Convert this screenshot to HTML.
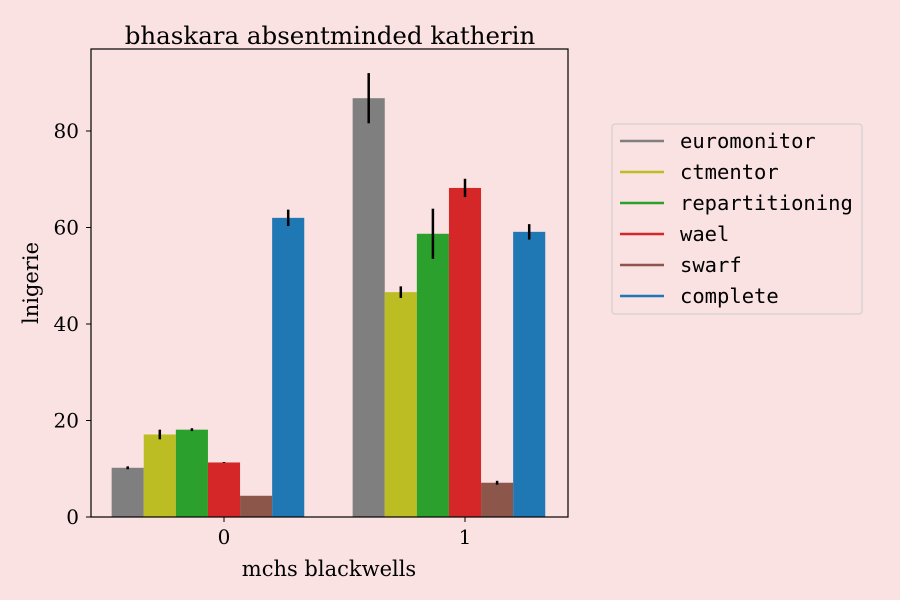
<!DOCTYPE html>
<html><head><meta charset="utf-8"><style>
body{margin:0;background:#fae1e2;}
svg{display:block;font-family:"DejaVu Serif","Liberation Serif",serif;}
</style></head><body>
<svg id="c" width="900" height="600">
<rect width="900" height="600" fill="#fae1e2"/>
<text x="330" y="44" text-anchor="middle" font-size="24.5">bhaskara absentminded katherin</text>
<g id="bars"></g>
<rect x="91" y="49" width="477" height="468" fill="none" stroke="#000" stroke-width="1.2"/>
<g id="axes" font-size="20"></g>
<text x="329" y="576" text-anchor="middle" font-size="21">mchs blackwells</text>
<text transform="translate(38,283) rotate(-90)" text-anchor="middle" font-size="21">lnigerie</text>
<g>
<rect x="612" y="124" width="250" height="190" rx="3" fill="#fae1e2" stroke="#ccc"/>
<g id="legend" font-family="'DejaVu Sans Mono','Liberation Mono',monospace" font-size="20.5"></g>
</g>
</svg>
<script>
const categories = ["0","1"];
const series = ["euromonitor","ctmentor","repartitioning","wael","swarf","complete"];
const colors = ["#7f7f7f","#bcbd22","#2ca02c","#d62728","#8c564b","#1f77b4"];
const values0 = [10.2,17.1,18.1,11.3,4.4,62.0];
const values1 = [86.8,46.6,58.7,68.2,7.1,59.1];
const errors0 = [0.3,1.0,0.3,0.1,0,1.7];
const errors1 = [5.2,1.2,5.2,1.9,0.4,1.6];
const yTicks = [0,20,40,60,80];
const values=[values0,values1], errors=[errors0,errors1];
const NS="http://www.w3.org/2000/svg";
const y=v=>517-v*4.825;
const xc=i=>224+i*241;
const bw=32.1;
function mk(tag,attrs,parent){const e=document.createElementNS(NS,tag);for(const k in attrs)e.setAttribute(k,attrs[k]);parent.appendChild(e);return e;}
const bars=document.getElementById('bars');
categories.forEach((c,ci)=>{
  series.forEach((s,si)=>{
    const v=values[ci][si], x0=xc(ci)-3.5*bw+si*bw;
    const r=mk('rect',{x:x0,y:y(v),width:bw,height:517-y(v),fill:colors[si]},bars);
    
    
    const e=errors[ci][si];
    if(e>0){
      const l=mk('line',{x1:x0+bw/2,x2:x0+bw/2,y1:y(v-e),y2:y(v+e),stroke:'#000','stroke-width':2.5},bars);
      
      
    }
  });
});
const ax=document.getElementById('axes');
yTicks.forEach(t=>{
  const l=mk('line',{x1:86,x2:91,y1:y(t),y2:y(t),stroke:'#000'},ax);
  
  
  const tx=mk('text',{x:79,y:y(t)+7,'text-anchor':'end'},ax);tx.textContent=t;
  
  
});
categories.forEach((c,ci)=>{
  const l=mk('line',{x1:xc(ci),x2:xc(ci),y1:517,y2:522,stroke:'#000'},ax);
  
  
  const tx=mk('text',{x:xc(ci),y:544,'text-anchor':'middle'},ax);tx.textContent=c;
  
  
});
const lg=document.getElementById('legend');
series.forEach((s,si)=>{
  const yy=141+si*31;
  const g=mk('g',{},lg);
  
  
  mk('line',{x1:620,x2:664,y1:yy,y2:yy,stroke:colors[si],'stroke-width':2.5},g);
  const t=mk('text',{x:680,y:yy+7},g);t.textContent=s;
});
</script>
</body></html>
